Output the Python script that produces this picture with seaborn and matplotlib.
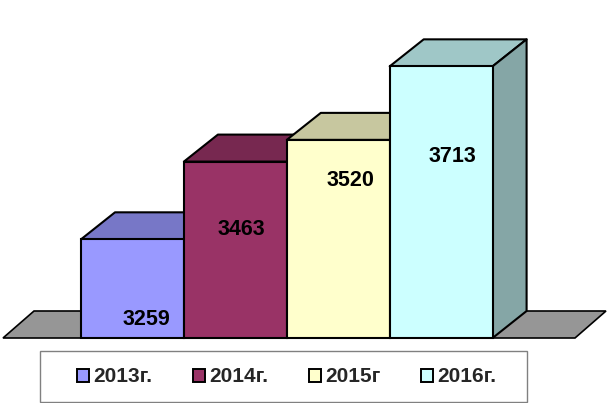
import matplotlib
matplotlib.use("Agg")
import matplotlib.pyplot as plt
import seaborn as sns
import numpy as np
import pandas as pd
from matplotlib.patches import Polygon, Rectangle, Patch
from matplotlib.colors import to_rgb

years = ["2013г.", "2014г.", "2015г", "2016г."]
values = [3259, 3463, 3520, 3713]
colors = ["#9999FF", "#993366", "#FFFFCC", "#CCFFFF"]

sns.set_theme(style="white")
plt.rcParams["font.family"] = ["Liberation Sans", "DejaVu Sans"]

W, H = 610, 403
fig = plt.figure(figsize=(W / 100, H / 100), dpi=100, facecolor="white")
ax = fig.add_axes([0, 0, 1, 1])

df = pd.DataFrame({"year": years, "value": values})
sns.barplot(data=df, x="year", y="value", hue="year", palette=colors, saturation=1,
            width=1.0, dodge=False, legend=False, ax=ax,
            edgecolor="#000000", linewidth=1.5)

# pixel calibration of the picture
px_cat = 102.9
x0_px = 81.0
base_px = 338.0
px_unit = 0.381
base_val = 3000
ax.set_xlim(-0.5 - x0_px / px_cat, -0.5 + (W - x0_px) / px_cat)
ax.set_ylim(base_val - (H - base_px) / px_unit, base_val + base_px / px_unit)
ax.axis("off")


def X(px):
    return -0.5 + (px - x0_px) / px_cat


def Y(px):
    return base_val + (base_px - px) / px_unit


dx = 34 / px_cat
dy = 27 / px_unit


def shade(c, f):
    return tuple(v * f for v in to_rgb(c))


bars = sorted(ax.patches, key=lambda p: p.get_x())
for i, (bar, c) in enumerate(zip(bars, colors)):
    x, w, h = bar.get_x(), bar.get_width(), bar.get_height()
    bar.set_bounds(x, base_val, w, h - base_val)
    bar.set_zorder(3 + i + 0.5)
    r = x + w
    top = Polygon([(x, h), (r, h), (r + dx, h + dy), (x + dx, h + dy)], closed=True,
                  facecolor=shade(c, 0.78), edgecolor="black", linewidth=1.5,
                  joinstyle="round", zorder=3 + i)
    side = Polygon([(r, h), (r + dx, h + dy), (r + dx, base_val + dy), (r, base_val)], closed=True,
                   facecolor=shade(c, 0.65), edgecolor="black", linewidth=1.5,
                   joinstyle="round", zorder=3 + i)
    ax.add_patch(top)
    ax.add_patch(side)

# floor
ax.add_patch(Polygon([(X(3), Y(338)), (X(575), Y(338)), (X(606), Y(311)), (X(34), Y(311))],
                     closed=True, facecolor="#969696", edgecolor="black", linewidth=1.2, zorder=1))

# value labels
label_px = [(146, 319), (241, 229), (350, 180), (452, 156)]
for v, (lx, ly) in zip(values, label_px):
    ax.text(X(lx), Y(ly), str(v), ha="center", va="center", fontsize=15.5,
            fontweight="bold", color="black", zorder=20)

# legend frame and legend
ax.add_patch(Rectangle((X(39.5), Y(402)), 487.5 / px_cat, 51 / px_unit, facecolor="white",
                       edgecolor="#808080", linewidth=1, zorder=15))
handles = [Patch(facecolor=c, edgecolor="black", linewidth=1.4) for c in colors]
leg = ax.legend(handles, years, ncol=4, frameon=False, loc="center",
                bbox_to_anchor=(287 / W, 1 - 377 / H), bbox_transform=ax.transAxes,
                handlelength=0.58, handleheight=0.6, handletextpad=0.2,
                columnspacing=1.95, prop={"weight": "bold", "size": 15})
leg.set_zorder(16)

fig.savefig("out.png", dpi=100, facecolor="white")
